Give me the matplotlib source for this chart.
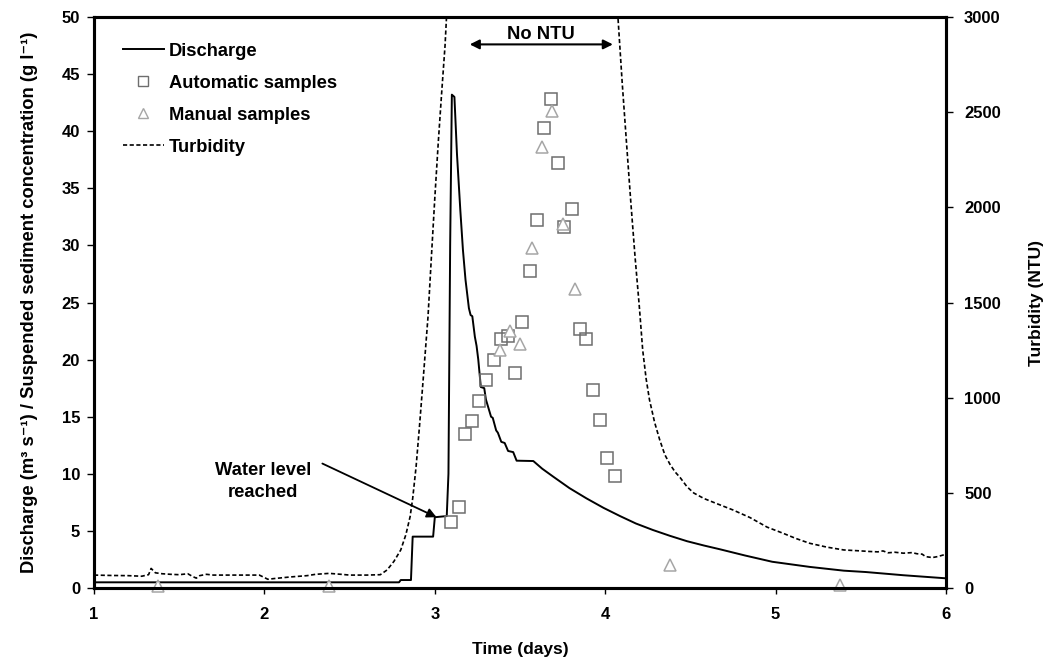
import numpy as np
import matplotlib
matplotlib.use("Agg")
import matplotlib.pyplot as plt
from matplotlib.lines import Line2D

plt.rcParams['font.family'] = ['Liberation Sans', 'DejaVu Sans']

# ---- data ----
discharge_t = [1.00, 2.79, 2.80, 2.86, 2.87, 2.99, 3.00, 3.07, 3.08, 3.09, 3.10, 3.115,
               3.13, 3.15, 3.165, 3.18, 3.20, 3.21, 3.22, 3.235, 3.245, 3.255, 3.27, 3.29,
               3.30, 3.33, 3.34, 3.36, 3.37, 3.39, 3.41, 3.43, 3.46, 3.48, 3.578, 3.63,
               3.695, 3.79, 3.89, 3.99, 4.087, 4.18, 4.28, 4.38, 4.48, 4.58, 4.674, 4.82,
               4.98, 5.20, 5.40, 5.53, 5.75, 6.00]
discharge_q = [0.5, 0.5, 0.7, 0.7, 4.5, 4.5, 6.2, 6.3, 10.0, 30.0, 43.2, 43.0,
               38.0, 33.0, 29.6, 27.0, 24.5, 23.9, 23.8, 22.0, 21.2, 20.0, 17.6, 17.5,
               16.5, 15.0, 14.9, 13.8, 13.6, 12.8, 12.7, 12.0, 11.9, 11.15, 11.12, 10.45,
               9.75, 8.75, 7.85, 7.02, 6.3, 5.65, 5.08, 4.57, 4.1, 3.72, 3.39, 2.85,
               2.3, 1.85, 1.52, 1.40, 1.12, 0.85]

turb_t = [1.00, 1.10, 1.20, 1.28, 1.32, 1.335, 1.36, 1.40, 1.45, 1.50, 1.55, 1.58,
          1.60, 1.62, 1.66, 1.70, 1.80, 1.90, 1.97, 2.00, 2.02, 2.06, 2.15, 2.25,
          2.30, 2.38, 2.45, 2.50, 2.60, 2.68, 2.72, 2.76, 2.80, 2.83, 2.855, 2.87,
          2.89, 2.91, 2.93, 2.96, 2.98, 3.00, 3.02, 3.04, 3.06, 3.08,
          3.50,
          4.07, 4.075, 4.10, 4.125, 4.15, 4.175, 4.20, 4.22, 4.24, 4.26, 4.29, 4.32,
          4.35, 4.38, 4.41, 4.44, 4.48, 4.52, 4.58, 4.65, 4.75, 4.85, 4.95, 5.04,
          5.12, 5.20, 5.30, 5.40, 5.50, 5.55, 5.60, 5.63, 5.66, 5.70, 5.75, 5.80,
          5.83, 5.86, 5.88, 5.92, 5.95, 5.99, 6.00]
turb_ntu = [68, 66, 65, 62, 70, 103, 80, 75, 72, 70, 75, 60,
            52, 65, 72, 68, 68, 68, 68, 55, 46, 50, 58, 65,
            72, 77, 72, 68, 68, 70, 95, 140, 200, 280, 375, 470,
            637, 850, 1077, 1425, 1741, 2050, 2338, 2600, 2850, 3200,
            np.nan,
            3200, 2995, 2650, 2338, 2030, 1741, 1480, 1250, 1100, 988, 870, 778,
            700, 650, 610, 580, 532, 499, 470, 445, 410, 370, 320, 289,
            260, 235, 215, 200, 195, 192, 190, 195, 185, 188, 183, 186,
            180, 178, 165, 160, 165, 175, 170]

auto_t = [3.095, 3.14, 3.18, 3.22, 3.26, 3.30, 3.35, 3.39, 3.43, 3.47, 3.51, 3.56,
          3.60, 3.64, 3.68, 3.72, 3.76, 3.805, 3.85, 3.89, 3.93, 3.97, 4.01, 4.055]
auto_c = [5.8, 7.1, 13.5, 14.65, 16.4, 18.2, 20.0, 21.8, 22.1, 18.8, 23.3, 27.8,
          32.2, 40.3, 42.8, 37.25, 31.6, 33.2, 22.7, 21.8, 17.3, 14.7, 11.4, 9.8]

manual_t = [1.377, 2.38, 3.38, 3.44, 3.50, 3.57, 3.63, 3.69, 3.75, 3.82, 4.38, 5.38]
manual_c = [0.15, 0.15, 20.8, 22.5, 21.4, 29.8, 38.6, 41.8, 31.9, 26.2, 2.0, 0.3]

xticks = [1, 2, 3, 4, 5, 6]
yticks_left = [0, 5, 10, 15, 20, 25, 30, 35, 40, 45, 50]
yticks_right = [0, 500, 1000, 1500, 2000, 2500, 3000]

# ---- figure ----
fig = plt.figure(figsize=(10.46, 6.61), dpi=100)
ax = fig.add_axes([0.0899, 0.1104, 0.8145, 0.8639])
ax2 = ax.twinx()

sq_color = '#6e6e6e'
tri_color = '#a6a6a6'
fs_tick = 12
fs_lab = 12.5
fs_txt = 13.2

ax.plot(discharge_t, discharge_q, color='black', lw=1.4, zorder=3)
ax.plot(auto_t, auto_c, ls='none', marker='s', markersize=9, markerfacecolor='none',
        markeredgecolor=sq_color, markeredgewidth=1.1, zorder=4, clip_on=False)
ax.plot(manual_t, manual_c, ls='none', marker='^', markersize=9, markerfacecolor='white',
        markeredgecolor=tri_color, markeredgewidth=1.1, zorder=5, clip_on=False)
ax2.plot(turb_t, turb_ntu, color='black', lw=1.2, ls=(0, (2.5, 1.5)))

ax.set_xlim(1, 6)
ax.set_ylim(0, 50)
ax2.set_ylim(0, 3000)
ax.set_xticks(xticks)
ax.set_yticks(yticks_left)
ax2.set_yticks(yticks_right)

for a in (ax, ax2):
    for s in a.spines.values():
        s.set_linewidth(2.2)
ax.tick_params(axis='y', direction='out', length=5, width=1, labelsize=fs_tick, pad=5)
ax.tick_params(axis='x', direction='out', length=4, width=1, labelsize=fs_tick, pad=10)
ax2.tick_params(axis='y', direction='out', length=5, width=1, labelsize=fs_tick, pad=8)
for lab in ax.get_xticklabels() + ax.get_yticklabels() + ax2.get_yticklabels():
    lab.set_fontweight('bold')

ax.set_xlabel('Time (days)', fontsize=fs_lab, fontweight='bold', labelpad=14)
ax.set_ylabel('Discharge (m\u00b3 s\u207b\u00b9) / Suspended sediment concentration (g l\u207b\u00b9)',
              fontsize=13.2, fontweight='bold', labelpad=17)
ax2.set_ylabel('Turbidity (NTU)', fontsize=fs_lab, fontweight='bold', labelpad=20)

# annotations
ax.annotate('', xy=(3.205, 47.6), xytext=(4.045, 47.6),
            arrowprops=dict(arrowstyle='<|-|>', color='black', lw=1.5,
                            mutation_scale=14, shrinkA=0, shrinkB=0))
ax.text(3.625, 48.5, 'No NTU', ha='center', va='center', fontsize=fs_txt, fontweight='bold')

ax.annotate('', xy=(3.01, 6.2), xytext=(2.34, 10.9),
            arrowprops=dict(arrowstyle='-|>', color='black', lw=1.3,
                            mutation_scale=14, shrinkA=0, shrinkB=0))
ax.text(1.99, 9.35, 'Water level\nreached', ha='center', va='center', fontsize=fs_txt,
        fontweight='bold', linespacing=1.35)

handles = [
    Line2D([], [], color='black', lw=1.4),
    Line2D([], [], ls='none', marker='s', markersize=7, markerfacecolor='none',
           markeredgecolor=sq_color, markeredgewidth=1.0),
    Line2D([], [], ls='none', marker='^', markersize=7, markerfacecolor='none',
           markeredgecolor=tri_color, markeredgewidth=1.0),
    Line2D([], [], color='black', lw=1.2, ls=(0, (2.5, 1.5))),
]
labels = ['Discharge', 'Automatic samples', 'Manual samples', 'Turbidity']
leg = ax2.legend(handles, labels, loc='upper left', bbox_to_anchor=(0.015, 0.984),
                 frameon=False, prop={'size': fs_txt, 'weight': 'bold'},
                 handlelength=2.2, handletextpad=0.3, labelspacing=0.82)

fig.savefig('out.png', dpi=100)
